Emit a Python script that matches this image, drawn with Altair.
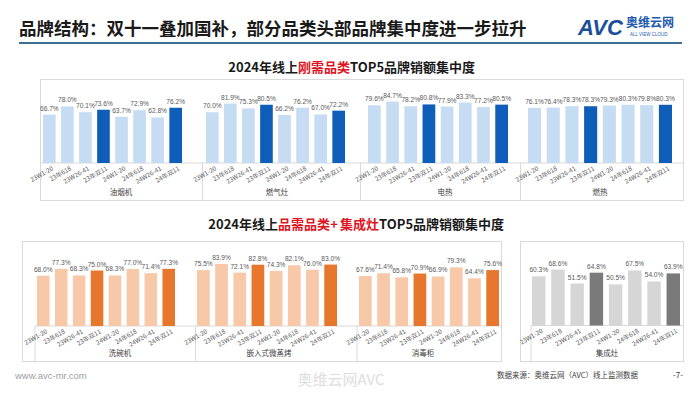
import altair as alt
import pandas as pd

FONT = "Noto Sans CJK SC"
NUM_FONT = "Liberation Sans"

periods = ["23W1-20", "23年618", "23W26-41", "23年双11", "24W1-20", "24年618", "24W26-41", "24年双11"]

range_hood = [66.7, 78.0, 70.1, 73.6, 63.7, 72.9, 62.8, 76.2]
gas_stove = [70.0, 81.9, 75.3, 80.5, 66.2, 76.2, 67.0, 72.2]
electric_heater = [79.6, 84.7, 78.2, 80.8, 77.9, 83.3, 77.2, 80.5]
gas_heater = [76.1, 76.4, 78.3, 78.3, 79.3, 80.3, 79.8, 80.3]
dishwasher = [68.0, 77.3, 68.3, 75.0, 68.3, 77.0, 71.4, 77.3]
steam_oven = [75.5, 83.9, 72.1, 82.8, 74.3, 82.1, 76.0, 83.0]
sterilizer = [67.6, 71.4, 65.8, 70.9, 66.9, 79.3, 64.4, 75.6]
integrated_stove = [60.3, 68.6, 51.5, 64.8, 50.5, 67.5, 54.0, 63.9]

top_names = ["油烟机", "燃气灶", "电热", "燃热"]
bottom_names = ["洗碗机", "嵌入式微蒸烤", "消毒柜", "集成灶"]

title_text = "品牌结构：双十一叠加国补，部分品类头部品牌集中度进一步拉升"
sub1_parts = ["2024年线上", "刚需品类", "TOP5品牌销额集中度"]
sub2_parts = ["2024年线上", "品需品类", "+", "集成灶", "TOP5品牌销额集中度"]
footer_site = "www.avc-mr.com"
footer_source = "数据来源：奥维云网（AVC）线上监测数据"
footer_page = "-7-"
watermark = "奥维云网AVC"

BLUE_L, BLUE_D = "#C5DCF2", "#0E5DB8"
ORANGE_L, ORANGE_D = "#F7C9A9", "#E8772E"
GRAY_L, GRAY_D = "#D6D6D6", "#7A7A7A"
LINE = "#D9D9D9"
RED = "#E0141E"
TXT = "#1a1a1a"

ONE = pd.DataFrame({"a": [0]})


def line(x1, y1, x2, y2, color=LINE, width=1):
    return alt.Chart(ONE).mark_rule(color=color, strokeWidth=width).encode(
        x=alt.value(x1), y=alt.value(y1), x2=alt.value(x2), y2=alt.value(y2))


def label(text, x, y, size, color=TXT, align="center", weight="normal", font=FONT, **kw):
    return alt.Chart(pd.DataFrame({"t": [text]})).mark_text(
        align=align, baseline="middle", fontSize=size, color=color,
        fontWeight=weight, font=font, **kw
    ).encode(x=alt.value(x), y=alt.value(y), text="t:N")


def spacer(w, h):
    return alt.Chart(ONE).mark_rule(opacity=0).encode(
        x=alt.value(1), y=alt.value(1), x2=alt.value(2), y2=alt.value(1)
    ).properties(width=w, height=h)


def panel(name, values, light, dark, width, height, base, ppu, bar_range, label_x,
          left_edge=False, right_edge=False, divider=None, axis_from=0):
    domain = [-(height - base) / ppu, base / ppu]
    df = pd.DataFrame({"period": periods, "value": values})
    xenc = alt.X("period:N", sort=periods, axis=None,
                 scale=alt.Scale(range=bar_range, paddingInner=0.3, paddingOuter=0))
    yscale = alt.Scale(domain=domain, nice=False, zero=False)
    b = alt.Chart(df).encode(x=xenc)
    bars = b.mark_bar().encode(
        y=alt.Y("value:Q", scale=yscale, axis=None),
        y2=alt.datum(0),
        color=alt.condition("indexof(datum.period, '双11') >= 0", alt.value(dark), alt.value(light)),
    )
    vlabels = b.transform_calculate(
        lbl="format(datum.value, '.1f') + '%'"
    ).mark_text(baseline="bottom", dy=-3, fontSize=6.6, color="#595959", font=NUM_FONT).encode(
        y=alt.Y("value:Q", scale=yscale, axis=None), text="lbl:N")
    xlabels = b.mark_text(angle=330, align="right", baseline="middle", fontSize=6.3,
                          color="#595959", font=FONT, dx=4).encode(
        y=alt.value(base + 7), text="period:N")
    cat = label(name, label_x, height - 8, 7.5, color="#404040")
    layers = [
        line(0, 0.5, width, 0.5),
        line(0, height - 0.5, width, height - 0.5),
        line(axis_from, base, width, base),
    ]
    if axis_from > 0:
        layers.append(line(axis_from, base, axis_from, height))
    if left_edge:
        layers.append(line(0.5, 0, 0.5, height))
    if right_edge:
        layers.append(line(width - 0.5, 0, width - 0.5, height))
    if divider is not None:
        layers.append(line(divider, base, divider, height))
    layers += [bars, vlabels, xlabels, cat]
    return alt.layer(*layers).properties(width=width, height=height)


W = 676

# header
header = alt.layer(
    label(title_text, 11, 22, 17.5, align="left", weight="bold"),
    line(11, 35, 674, 35, color="#3D6D94", width=2),
    label("AVC", 570, 20, 22, color="#1B4F9C", align="left", weight="bold",
          font=NUM_FONT, fontStyle="italic"),
    label("奥维云网", 618, 15, 12, color="#1E5AAE", align="left", weight="bold"),
    label("ALL VIEW CLOUD", 622, 26.5, 4.5, color="#1E5AAE", align="left", font=NUM_FONT),
).properties(width=W, height=42)

sub1 = alt.layer(
    label(sub1_parts[0], 290, 18, 13, align="right", weight="bold"),
    label(sub1_parts[1], 316, 18, 13, color=RED, weight="bold"),
    label(sub1_parts[2], 342, 18, 13, align="left", weight="bold"),
).properties(width=W, height=28)

sub2 = alt.layer(
    label(sub2_parts[0], 270, 23, 13, align="right", weight="bold"),
    label(sub2_parts[1], 296, 23, 13, color=RED, weight="bold"),
    label(sub2_parts[2], 326, 23, 13, color=RED, weight="bold"),
    label(sub2_parts[3], 351.5, 23, 13, color=RED, weight="bold"),
    label(sub2_parts[4], 371, 23, 13, align="left", weight="bold"),
).properties(width=W, height=38)

TH, TB, TP = 122, 84, 0.725
top_row = alt.hconcat(
    spacer(32, TH),
    panel(top_names[0], range_hood, BLUE_L, BLUE_D, 162, TH, TB, TP, [3, 142], 81, left_edge=True),
    panel(top_names[1], gas_stove, BLUE_L, BLUE_D, 158, TH, TB, TP, [4, 143], 75, divider=0.5),
    panel(top_names[2], electric_heater, BLUE_L, BLUE_D, 160, TH, TB, TP, [8, 148], 85, divider=0.5),
    panel(top_names[3], gas_heater, BLUE_L, BLUE_D, 164, TH, TB, TP, [8, 152], 80, divider=0.5,
          right_edge=True),
    spacing=0, bounds="flush",
)

BH, BB, BP = 121, 85, 0.74
bottom_row = alt.hconcat(
    spacer(14, BH),
    panel(bottom_names[0], dishwasher, ORANGE_L, ORANGE_D, 173, BH, BB, BP, [15, 153], 98,
          left_edge=True, axis_from=13),
    panel(bottom_names[1], steam_oven, ORANGE_L, ORANGE_D, 160, BH, BB, BP, [2, 142], 74, divider=0.5),
    panel(bottom_names[2], sterilizer, ORANGE_L, ORANGE_D, 147, BH, BB, BP, [4, 144], 68, divider=2,
          right_edge=True),
    spacer(18, BH),
    panel(bottom_names[3], integrated_stove, GRAY_L, GRAY_D, 164, BH, 84.5, 0.815, [12, 160], 87,
          left_edge=True, right_edge=True, axis_from=11),
    spacing=0, bounds="flush",
)

footer = alt.layer(
    label(footer_site, 7, 13, 9.5, color="#a0a0a0", align="left", font=NUM_FONT),
    label(watermark, 333, 17, 15, color="#dedede"),
    label(footer_source, 489, 13, 7.5, color="#404040", align="left"),
    label(footer_page, 670, 13, 8, color="#404040"),
).properties(width=W, height=27)

chart = alt.vconcat(
    header, sub1, top_row, sub2, bottom_row, footer, spacing=0
).properties(padding=0, background="white").configure_view(strokeWidth=0)

chart.save("out.html", embed_options={"renderer": "svg", "actions": False})
